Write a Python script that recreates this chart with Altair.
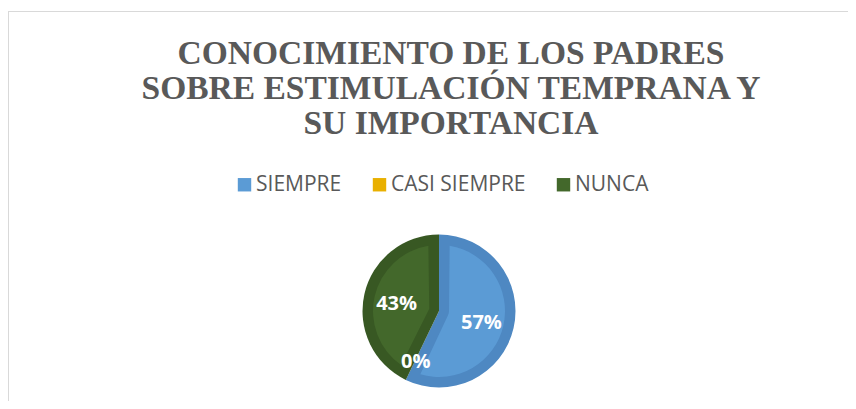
import altair as alt
import pandas as pd

# ---- data ----
categories = ["SIEMPRE", "CASI SIEMPRE", "NUNCA"]
values = [4, 0, 3]
percent_labels = ["57%", "0%", "43%"]
title_lines = ["CONOCIMIENTO DE LOS PADRES", "SOBRE ESTIMULACIÓN TEMPRANA Y", "SU IMPORTANCIA"]

# ---- styles ----
light_colors = ["#5B9BD5", "#E9B000", "#43682B"]
dark_colors = ["#4E88C2", "#D9A300", "#385823"]
TEXT_GRAY = "#595959"
FRAME = "#D9D9D9"
CX, CY = 431, 303
W, H = 840, 393

df = pd.DataFrame({
    "cat": categories,
    "val": values,
    "label": percent_labels,
    "dark": dark_colors,
    "idx": list(range(len(categories))),
})

theta = alt.Theta("val:Q", stack=True)
order = alt.Order("idx:Q")
cx = alt.value(CX)
cy = alt.value(CY)

color = alt.Color(
    "cat:N",
    scale=alt.Scale(domain=categories, range=light_colors),
    sort=categories,
    legend=alt.Legend(
        title=None, orient="none", legendX=226, legendY=166, direction="horizontal",
        symbolType="square", symbolSize=180, symbolStrokeWidth=0,
        labelFont="Open Sans", labelFontSize=21, labelColor=TEXT_GRAY,
        labelOffset=1, columnPadding=27, padding=0,
    ),
)

base = alt.Chart(df)

dark = base.mark_arc(outerRadius=76.5, innerRadius=0).encode(
    theta=theta, order=order, color=alt.Color("dark:N", scale=None), x=cx, y=cy
)
light = base.mark_arc(outerRadius=66, innerRadius=10, padAngle=0.32).encode(
    theta=theta, order=order, color=color, x=cx, y=cy
)
labels = base.transform_window(
    cum="sum(val)", sort=[alt.SortField("idx", order="ascending")], frame=[None, 0]
).transform_calculate(
    mid="datum.cum - datum.val / 2",
    lr="datum.val == 0 ? 53.5 : 43.5",
).mark_text(
    font="Open Sans", fontWeight="bold", fontSize=20, color="white",
    baseline="middle", align="center", dy=2.5,
).encode(
    theta=alt.Theta("mid:Q", stack=None),
    radius=alt.Radius("lr:Q", scale=None),
    text="label:N", x=cx, y=cy,
)

one = alt.Chart(pd.DataFrame({"a": [0]}))
title = one.mark_text(
    font="Liberation Serif", fontWeight="bold", fontSize=33.5, lineHeight=35,
    color=TEXT_GRAY, align="center", baseline="alphabetic",
).encode(text=alt.value(title_lines), x=alt.value(443), y=alt.value(56))

top_rule = one.mark_rule(color=FRAME, strokeWidth=1).encode(
    x=alt.value(0), x2=alt.value(W), y=alt.value(3.5)
)
left_rule = one.mark_rule(color=FRAME, strokeWidth=1).encode(
    x=alt.value(0.5), y=alt.value(3.5), y2=alt.value(H)
)

chart = alt.layer(top_rule, left_rule, title, dark, light, labels).properties(
    width=W, height=H, autosize=alt.AutoSizeParams(type="none"), padding=0,
    background="white",
).configure_view(stroke=None)

chart.save("out.html", embed_options={"renderer": "svg", "actions": False})
